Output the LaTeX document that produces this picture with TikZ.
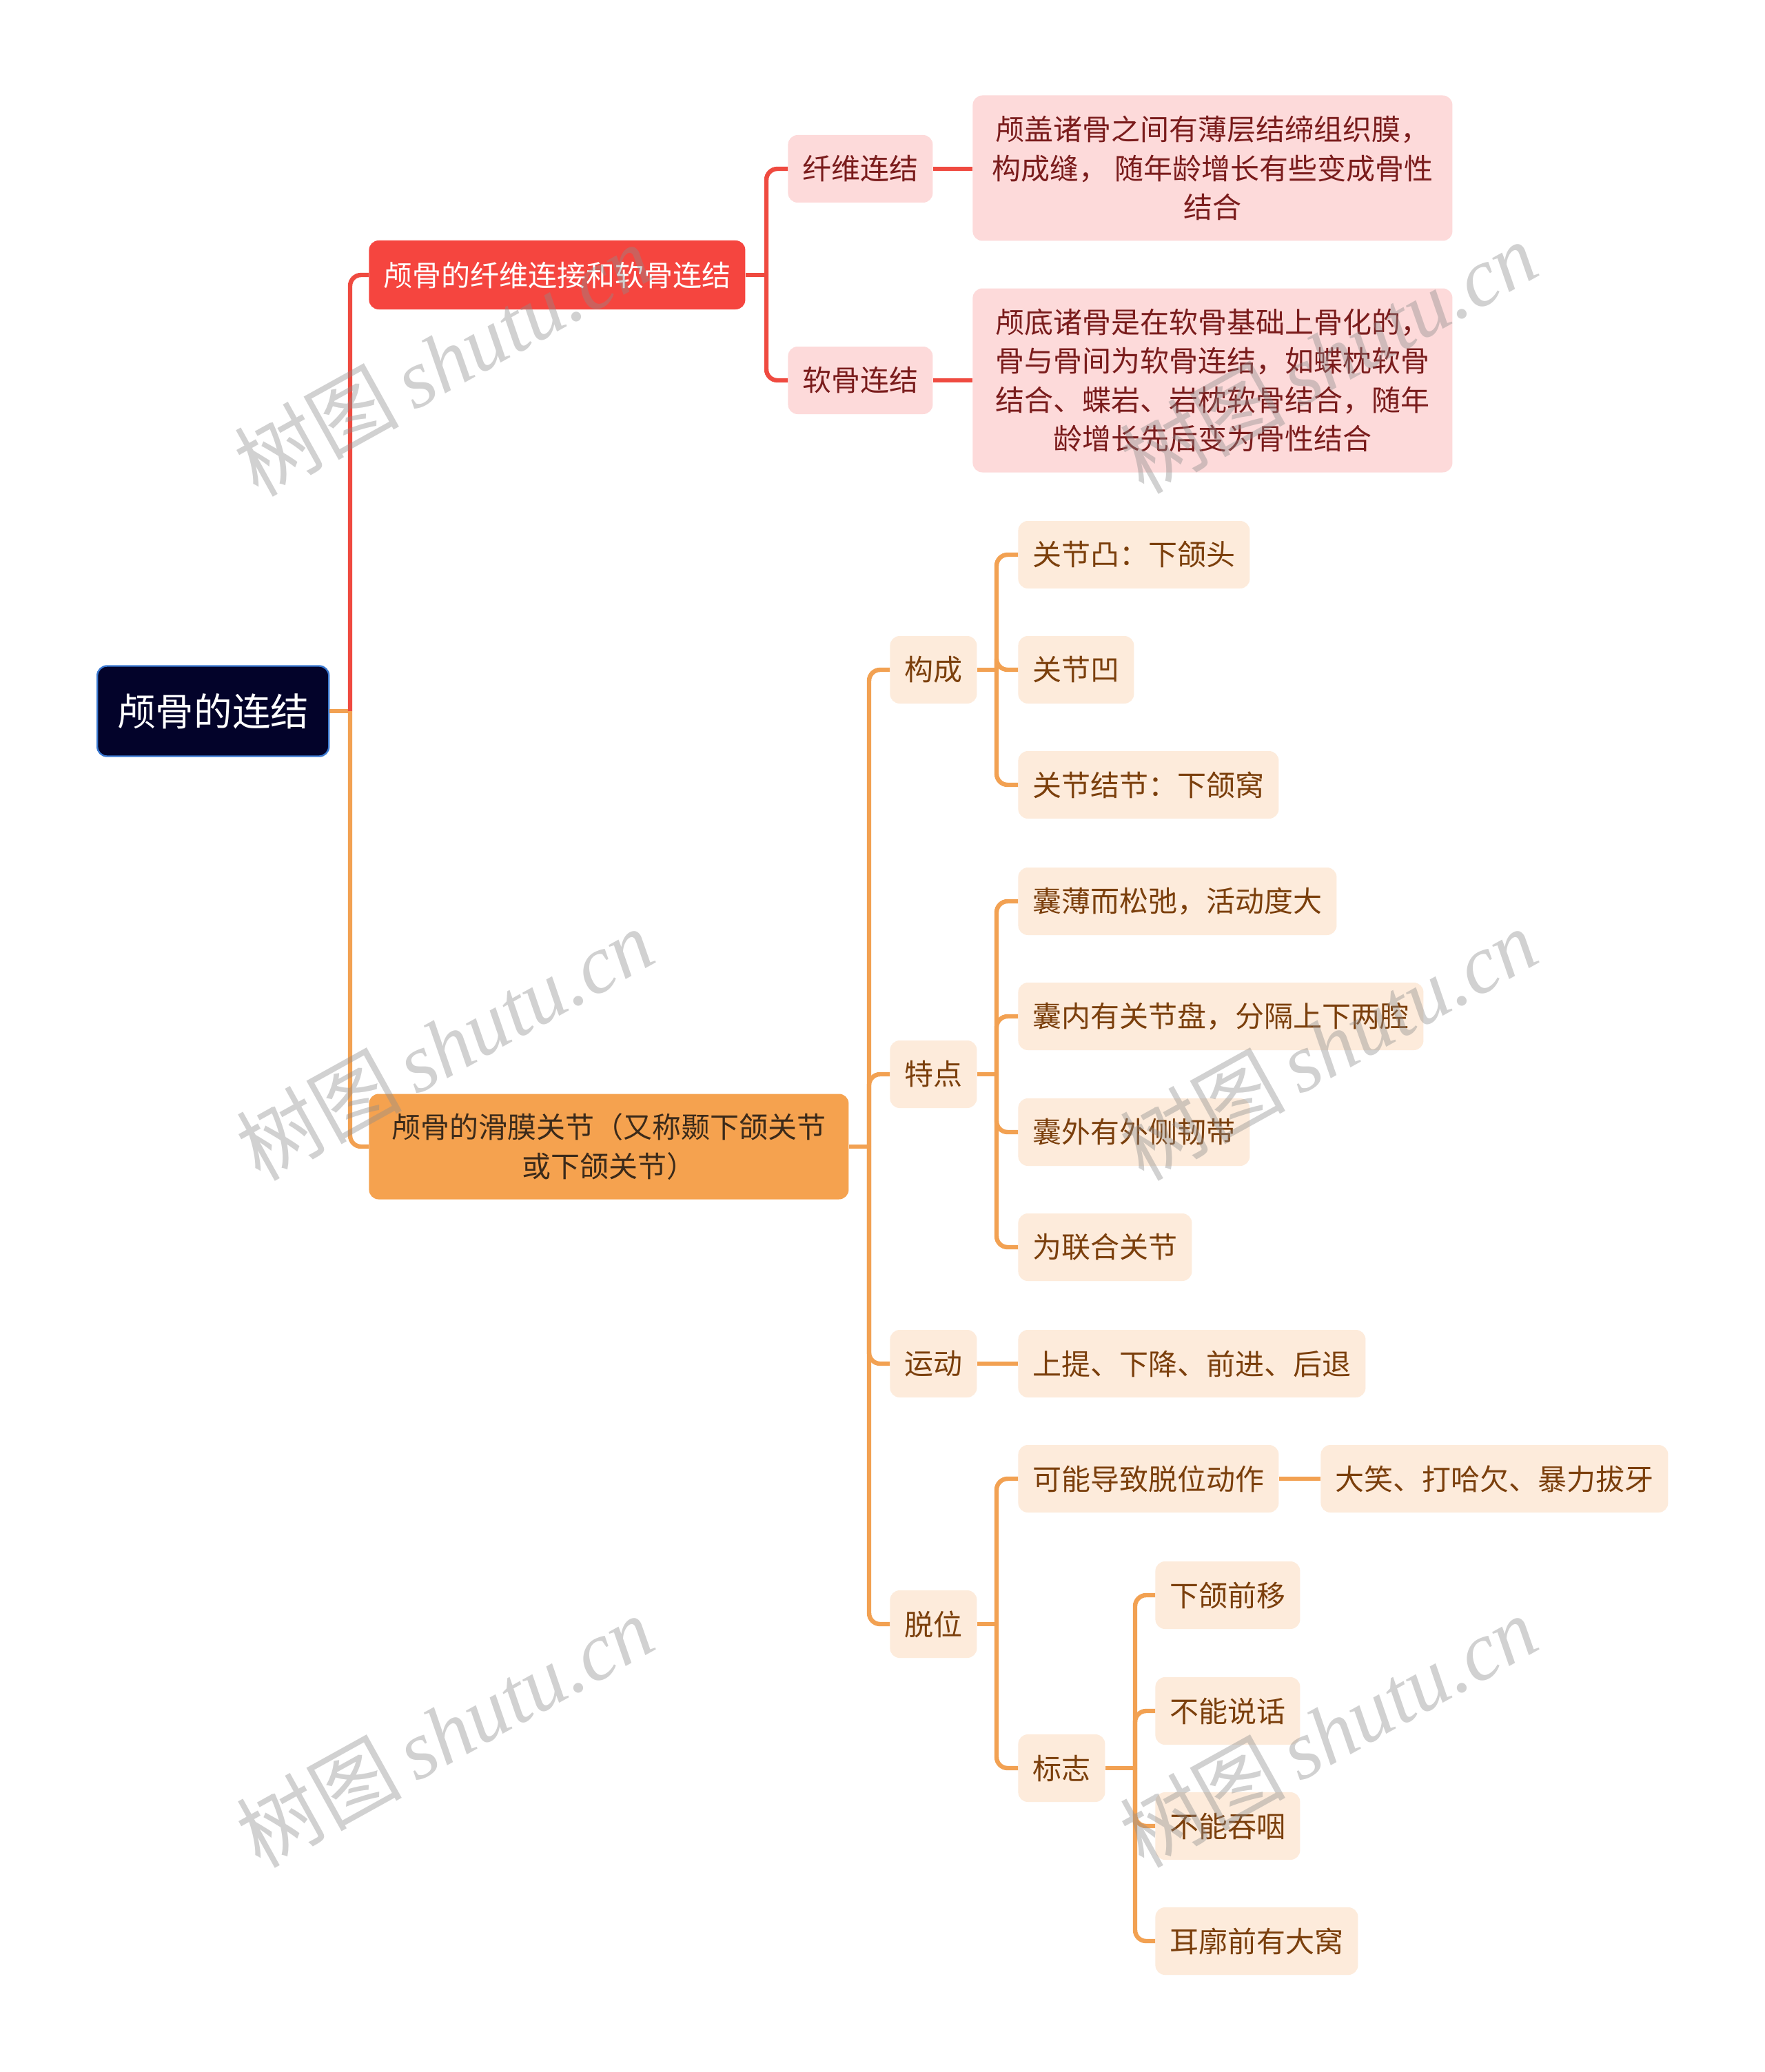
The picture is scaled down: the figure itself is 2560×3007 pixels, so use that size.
\documentclass[tikz,border=0pt]{standalone}
\usepackage{fontspec}
\setmainfont{Noto Sans CJK SC}
\newfontfamily\wmlatin{Liberation Serif}
\newfontfamily\wmcjk{Noto Sans CJK SC}
\definecolor{rootfill}{HTML}{03032A}
\definecolor{rootdraw}{HTML}{3A78D0}
\definecolor{redmain}{HTML}{F5453F}
\definecolor{redline}{HTML}{EF4A40}
\definecolor{pinkfill}{HTML}{FDDADA}
\definecolor{pinktext}{HTML}{7A1C1C}
\definecolor{orgmain}{HTML}{F5A24F}
\definecolor{orgline}{HTML}{F2A152}
\definecolor{orgtextmain}{HTML}{3B2A1A}
\definecolor{peachfill}{HTML}{FDEBDB}
\definecolor{peachtext}{HTML}{7B3F0C}
\begin{document}
\begin{tikzpicture}[x=0.5pt,y=-0.5pt,
  base/.style={rectangle, rounded corners=7pt, inner xsep=10.5pt, inner ysep=0pt,
    anchor=west, align=center, font=\fontsize{21}{28.3}\selectfont},
  rootbox/.style={base, fill=rootfill, draw=rootdraw, line width=1.2pt, text=white,
    inner xsep=14.5pt, minimum height=65.5pt, font=\fontsize{27.8}{30}\selectfont},
  redbox/.style={base, fill=redmain, text=white, minimum height=50pt},
  orgbox/.style={base, fill=orgmain, text=orgtextmain, minimum width=348pt, minimum height=76.5pt},
  pinkbox/.style={base, fill=pinkfill, text=pinktext, minimum height=49pt},
  descbox/.style={base, fill=pinkfill, text=pinktext, minimum width=348pt},
  peachbox/.style={base, fill=peachfill, text=peachtext, minimum height=49pt},
  rconn/.style={draw=redline, line width=3.2pt, rounded corners=8pt},
  oconn/.style={draw=orgline, line width=3.2pt, rounded corners=8pt},
  wmark/.style={rotate=29, text=black!45, opacity=0.4, font=\wmcjk\fontsize{60}{60}\selectfont}
]
\useasboundingbox[fill=white] (0,0) rectangle (2560,3007);

% root and first level
\node[rootbox] (root) at (140,1032) {颅骨的连结};
\node[redbox] (fib) at (535,399) {颅骨的纤维连接和软骨连结};
\node[orgbox] (syn) at (535,1664) {颅骨的滑膜关节（又称颞下颌关节\\或下颌关节）};

% red branch
\node[pinkbox] (xw) at (1143,245) {纤维连结};
\node[pinkbox] (rg) at (1143,552) {软骨连结};
\node[descbox, minimum height=105.5pt] (d1) at (1411,244) {颅盖诸骨之间有薄层结缔组织膜，\\构成缝， 随年龄增长有些变成骨性\\结合};
\node[descbox, minimum height=133.5pt] (d2) at (1411,552) {颅底诸骨是在软骨基础上骨化的，\\骨与骨间为软骨连结，如蝶枕软骨\\结合、蝶岩、岩枕软骨结合，随年\\龄增长先后变为骨性结合};

% orange branch level 2
\node[peachbox] (gc) at (1291,972) {构成};
\node[peachbox] (td) at (1291,1559) {特点};
\node[peachbox] (yd) at (1291,1979) {运动};
\node[peachbox] (tw) at (1291,2357) {脱位};

% level 3
\node[peachbox] (gc1) at (1477,805) {关节凸：下颌头};
\node[peachbox] (gc2) at (1477,972) {关节凹};
\node[peachbox] (gc3) at (1477,1139) {关节结节：下颌窝};
\node[peachbox] (td1) at (1477,1308) {囊薄而松弛，活动度大};
\node[peachbox] (td2) at (1477,1475) {囊内有关节盘，分隔上下两腔};
\node[peachbox] (td3) at (1477,1643) {囊外有外侧韧带};
\node[peachbox] (td4) at (1477,1810) {为联合关节};
\node[peachbox] (yd1) at (1477,1979) {上提、下降、前进、后退};
\node[peachbox] (tw1) at (1477,2146) {可能导致脱位动作};
\node[peachbox] (tw1a) at (1916,2146) {大笑、打哈欠、暴力拔牙};
\node[peachbox] (bz) at (1477,2566) {标志};
\node[peachbox] (bz1) at (1676,2315) {下颌前移};
\node[peachbox] (bz2) at (1676,2483) {不能说话};
\node[peachbox] (bz3) at (1676,2650) {不能吞咽};
\node[peachbox] (bz4) at (1676,2817) {耳廓前有大窝};

% bus coordinates
\coordinate (trunk) at (508,1032);
\coordinate (rbus) at (1112,399);
\coordinate (obus) at (1261,1664);
\coordinate (gbus) at (1446,972);
\coordinate (tbus) at (1446,1559);
\coordinate (wbus) at (1446,2357);
\coordinate (bbus) at (1647,2566);

% connectors
\draw[oconn] (root.east) -- (trunk);
\draw[rconn] (trunk) |- (fib.west);
\draw[oconn] (trunk) |- (syn.west);

\draw[rconn] (fib.east) -- (rbus);
\draw[rconn] (rbus) |- (xw.west);
\draw[rconn] (rbus) |- (rg.west);
\draw[rconn] (xw.east) -- (xw.east -| d1.west);
\draw[rconn] (rg.east) -- (rg.east -| d2.west);

\draw[oconn] (syn.east) -- (obus);
\foreach \n in {gc,td,yd,tw} \draw[oconn] (obus) |- (\n.west);

\draw[oconn] (gc.east) -- (gbus);
\foreach \n in {gc1,gc2,gc3} \draw[oconn] (gbus) |- (\n.west);

\draw[oconn] (td.east) -- (tbus);
\foreach \n in {td1,td2,td3,td4} \draw[oconn] (tbus) |- (\n.west);

\draw[oconn] (yd.east) -- (yd1.west);

\draw[oconn] (tw.east) -- (wbus);
\foreach \n in {tw1,bz} \draw[oconn] (wbus) |- (\n.west);
\draw[oconn] (tw1.east) -- (tw1a.west);

\draw[oconn] (bz.east) -- (bbus);
\foreach \n in {bz1,bz2,bz3,bz4} \draw[oconn] (bbus) |- (\n.west);

% watermarks
\node[wmark] (wm1) at (642,522) {树图\,{\wmlatin\itshape shutu.cn}};
\node[wmark] (wm2) at (645,1515) {树图\,{\wmlatin\itshape shutu.cn}};
\node[wmark] (wm3) at (645,2512) {树图\,{\wmlatin\itshape shutu.cn}};
\node[wmark] (wm4) at (1927,518) {树图\,{\wmlatin\itshape shutu.cn}};
\node[wmark] (wm5) at (1927,1515) {树图\,{\wmlatin\itshape shutu.cn}};
\node[wmark] (wm6) at (1927,2512) {树图\,{\wmlatin\itshape shutu.cn}};
\end{tikzpicture}
\end{document}
